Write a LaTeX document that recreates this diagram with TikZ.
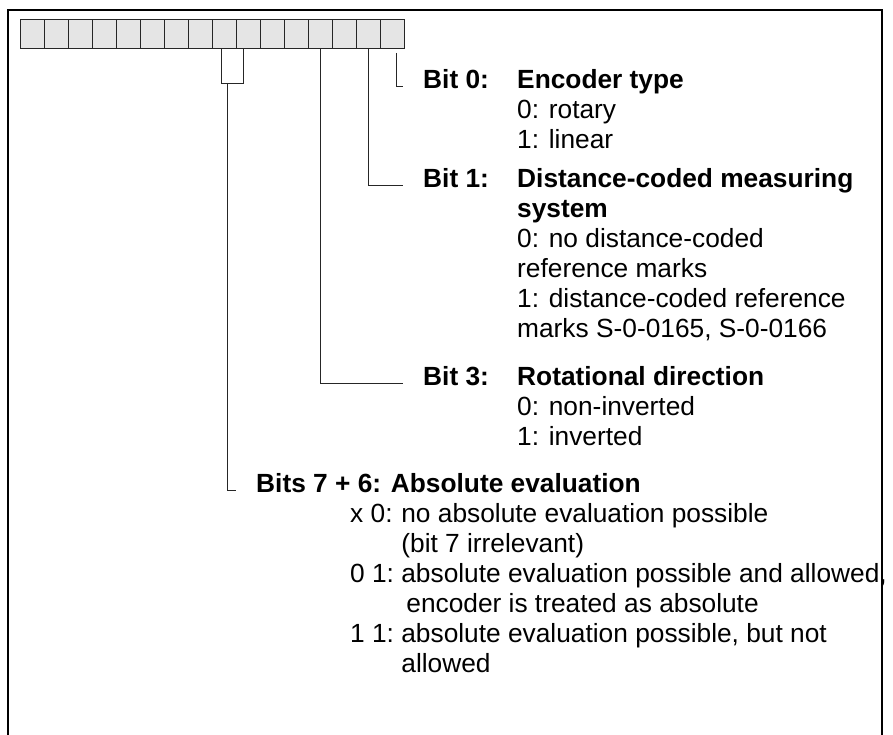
\documentclass[tikz,border=0pt]{standalone}
\usepackage{fontspec}
\setmainfont{Liberation Sans}
% one-column and two-column stacks of lines, first baseline on top
\newcommand\linestack[1]{\vtop{\baselineskip=30pt\lineskiplimit=-100pt\halign{##\hfil\cr#1\crcr}}}
\newcommand\codestack[1]{\vtop{\baselineskip=30pt\lineskiplimit=-100pt\halign{##\hfil\ &##\hfil\cr#1\crcr}}}
\begin{document}
\begin{tikzpicture}[x=1pt,y=-1pt,
  txt/.style={inner sep=0pt, anchor=base west, font=\fontsize{26.3}{30}\selectfont},
  head/.style={inner sep=0pt, anchor=base west, font=\fontsize{26.3}{30}\selectfont\bfseries},
  bitbox/.style={draw=black!85, fill=black!10, line width=1.2pt, minimum width=24pt,
                 minimum height=29pt, inner sep=0pt},
  wire/.style={draw=black!85, line width=1pt}]

\useasboundingbox (0,0) rectangle (893,734);

% frame, open at the bottom
\draw[line width=2pt] (7.7,740) -- (7.7,10) -- (881.7,10) -- (881.7,740);

% the 16 bits of the parameter, bit 0 on the right
\foreach \k in {0,...,15}
  \node[bitbox] (r\k) at ({392.3-24*\k},33.8) {};

% bit descriptions
\node[head] (t0) at (423,88) {Bit 0:};
\node[txt] (d0) at (517,88) {\linestack{\textbf{Encoder type}\cr 0: rotary\cr 1: linear}};

\node[head] (t1) at (423,187.5) {Bit 1:};
\node[txt] (d1) at (517,187.5) {\linestack{\textbf{Distance-coded measuring}\cr
  \textbf{system}\cr 0: no distance-coded\cr reference marks\cr
  1: distance-coded reference\cr marks S-0-0165, S-0-0166}};

\node[head] (t3) at (423,385) {Bit 3:};
\node[txt] (d3) at (517,385) {\linestack{\textbf{Rotational direction}\cr
  0: non-inverted\cr 1: inverted}};

\node[head] (t76) at (256,492) {Bits 7 + 6: Absolute evaluation};
\node[txt] (d76) at (350,522) {\codestack{x 0:&no absolute evaluation possible\cr
  &(bit 7 irrelevant)\cr
  0 1:&absolute evaluation possible and allowed,\cr
  &\hskip5pt encoder is treated as absolute\cr
  1 1:&absolute evaluation possible, but not\cr
  &allowed}};

% connectors from the bits to their descriptions
\draw[wire] ([xshift=3.7pt,yshift=-4pt]r0.south) |- ([xshift=-20pt,yshift=2pt]t0.base west);
\draw[wire] (r1.south) |- ([xshift=-20pt,yshift=2pt]t1.base west);
\draw[wire] (r3.south) |- ([xshift=-20pt,yshift=2pt]t3.base west);
\draw[wire] ([xshift=-3.3pt]r7.south) -- ++(0,34.7) -| ([xshift=-4.6pt]r6.south);
\draw[wire] ([xshift=3pt,yshift=-34.7pt]r7.south) |- ([xshift=-20pt,yshift=2pt]t76.base west);
\end{tikzpicture}
\end{document}
